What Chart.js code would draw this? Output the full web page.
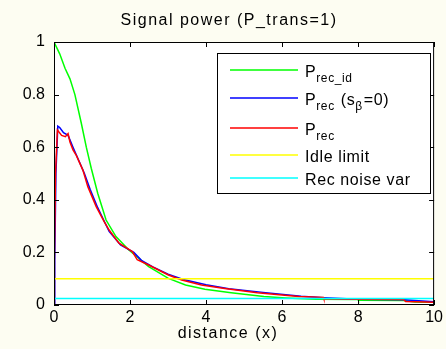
<!DOCTYPE html>
<html>
<head>
<meta charset="utf-8">
<title>Signal power</title>
<script src="https://cdn.jsdelivr.net/npm/chart.js@4.4.1/dist/chart.umd.min.js"></script>
<style>
  html, body { margin: 0; padding: 0; background: #fdfdf2; }
  #wrap { width: 446px; height: 349px; }
</style>
</head>
<body>
<div id="wrap"><canvas id="powerChart" width="446" height="349"></canvas></div>
<script>
// received power vs. distance
const distIdeal = [0, 0.15, 0.29, 0.42, 0.55, 0.72, 0.85, 0.98, 1.15, 1.37, 1.63, 1.97, 2.49, 3.01, 3.46, 3.97, 4.66, 5.52, 6.1, 6.9, 8.0, 8.01, 9.2, 9.5, 10];
const pIdeal = [1, 0.955, 0.9, 0.86, 0.8, 0.69, 0.6, 0.52, 0.425, 0.323, 0.26, 0.209, 0.146, 0.101, 0.076, 0.06, 0.047, 0.032, 0.027, 0.022, 0.021, 0.018, 0.017, 0.011, 0.01];

const distBlue = [0, 0.02, 0.05, 0.1, 0.15, 0.25, 0.37, 0.5, 0.62, 0.8, 0.95, 1.15, 1.35, 1.45, 1.75, 2.1, 2.3, 2.6, 3.0, 3.4, 4.0, 4.6, 5.5, 6.5, 7.1, 8.0, 9.2, 10];
const pBlue = [0, 0.17, 0.5, 0.68, 0.675, 0.655, 0.645, 0.6, 0.56, 0.5, 0.44, 0.37, 0.31, 0.28, 0.228, 0.2, 0.17, 0.145, 0.117, 0.097, 0.077, 0.062, 0.048, 0.033, 0.028, 0.022, 0.02, 0.012];

const distRec = [0, 0.01, 0.04, 0.09, 0.2, 0.3, 0.37, 0.42, 0.5, 0.59, 0.76, 0.89, 1.11, 1.32, 1.45, 1.71, 2.06, 2.19, 2.49, 3.01, 3.36, 3.88, 4.49, 5.35, 6.0, 6.44, 7.09, 7.1, 8.0, 9.2, 9.25, 10];
const pRec = [0, 0.17, 0.5, 0.665, 0.645, 0.64, 0.652, 0.62, 0.59, 0.568, 0.513, 0.45, 0.374, 0.317, 0.285, 0.235, 0.203, 0.172, 0.152, 0.114, 0.095, 0.076, 0.063, 0.047, 0.038, 0.032, 0.029, 0.024, 0.022, 0.021, 0.013, 0.01];

const idleLimit = 0.1;
const recNoiseVar = 0.025;

const xTicks = [0, 2, 4, 6, 8, 10];
const yTicks = [0, 0.2, 0.4, 0.6, 0.8, 1];

// legend entries: pieces of [text, subscript?]
const legendItems = [
  { color: '#00ff00', parts: [['P', false], ['rec_id', true]] },
  { color: '#0000ff', parts: [['P', false], ['rec', true], [' (s', false], ['\u03b2', true], ['=0)', false]] },
  { color: '#ff0000', parts: [['P', false], ['rec', true]] },
  { color: '#ffff00', parts: [['Idle limit', false]] },
  { color: '#00ffff', parts: [['Rec noise var', false]] }
];

const FONT = '"Liberation Sans", Arial, sans-serif';

const toPoints = (xs, ys) => xs.map((x, i) => ({ x: x, y: ys[i] }));

const frame = {
  id: 'frame',
  beforeDraw(chart) {
    const { ctx, chartArea: a } = chart;
    ctx.save();
    ctx.fillStyle = '#fdfdf2';
    ctx.fillRect(0, 0, chart.width, chart.height);
    ctx.fillStyle = '#ffffff';
    ctx.fillRect(a.left, a.top, a.right - a.left, a.bottom - a.top);
    ctx.restore();
  },
  afterDatasetsDraw(chart) {
    const { ctx, chartArea: a, scales } = chart;
    ctx.save();
    ctx.strokeStyle = '#000';
    ctx.lineWidth = 1;
    ctx.strokeRect(a.left + 0.5, a.top + 0.5, a.right - a.left - 1, a.bottom - a.top - 1);
    ctx.beginPath();
    xTicks.forEach(v => {
      const px = Math.round(scales.x.getPixelForValue(v)) + 0.5;
      ctx.moveTo(px, a.bottom); ctx.lineTo(px, a.bottom - 5);
      ctx.moveTo(px, a.top); ctx.lineTo(px, a.top + 5);
    });
    yTicks.forEach(v => {
      const py = Math.round(scales.y.getPixelForValue(v)) + 0.5;
      ctx.moveTo(a.left, py); ctx.lineTo(a.left + 5, py);
      ctx.moveTo(a.right, py); ctx.lineTo(a.right - 5, py);
    });
    ctx.stroke();

    // title and x label
    ctx.fillStyle = '#000';
    ctx.textAlign = 'center';
    ctx.textBaseline = 'middle';
    ctx.font = '16px ' + FONT;
    ctx.letterSpacing = '1.5px';
    ctx.fillText('Signal power (P_trans=1)', 229, 21);
    ctx.fillText('distance (x)', 228, 334);

    // legend box
    ctx.fillStyle = '#fff';
    ctx.fillRect(217, 53, 213, 140);
    ctx.strokeRect(217.5, 53.5, 213, 140);
    ctx.letterSpacing = '0.6px';
    const rows = [70, 98, 128, 155, 178];
    legendItems.forEach((item, i) => {
      const y = rows[i];
      ctx.strokeStyle = item.color;
      ctx.lineWidth = 1.5;
      ctx.beginPath();
      ctx.moveTo(230, y); ctx.lineTo(298, y);
      ctx.stroke();
      let x = 305;
      ctx.textAlign = 'left';
      ctx.textBaseline = 'alphabetic';
      ctx.fillStyle = '#000';
      item.parts.forEach(([txt, sub]) => {
        ctx.font = (sub ? '12px ' : '16px ') + FONT;
        const base = sub ? y + 12 : y + 7;
        ctx.fillText(txt, x, base);
        x += ctx.measureText(txt).width + (sub ? 1 : 0);
      });
    });
    ctx.restore();
  }
};

const line = (label, data, color, order) => ({
  label: label,
  data: data,
  borderColor: color,
  backgroundColor: color,
  borderWidth: 1.5,
  pointRadius: 0,
  tension: 0,
  fill: false,
  order: order
});

new Chart(document.getElementById('powerChart'), {
  type: 'line',
  data: {
    datasets: [
      line('P_rec_id', toPoints(distIdeal, pIdeal), '#00ff00', 4),
      line('P_rec (s_b=0)', toPoints(distBlue, pBlue), '#0000ff', 3),
      line('P_rec', toPoints(distRec, pRec), '#ff0000', 2),
      line('Idle limit', toPoints([0, 10], [idleLimit, idleLimit]), '#ffff00', 1),
      line('Rec noise var', toPoints([0, 10], [recNoiseVar, recNoiseVar]), '#00ffff', 0)
    ]
  },
  options: {
    responsive: false,
    devicePixelRatio: 1,
    animation: false,
    layout: { padding: { top: 42, right: 7, left: 0, bottom: 0 } },
    plugins: { legend: { display: false }, title: { display: false }, tooltip: { enabled: false } },
    scales: {
      x: {
        type: 'linear', min: 0, max: 10,
        grid: { display: false, drawTicks: false },
        border: { display: false },
        afterBuildTicks: s => { s.ticks = xTicks.map(v => ({ value: v })); },
        ticks: { color: '#000', font: { family: FONT, size: 16 }, padding: 3, maxRotation: 0 },
        afterFit: s => { s.height = 44; }
      },
      y: {
        type: 'linear', min: 0, max: 1,
        grid: { display: false, drawTicks: false },
        border: { display: false },
        afterBuildTicks: s => { s.ticks = yTicks.map(v => ({ value: v })); },
        ticks: { color: '#000', font: { family: FONT, size: 16 }, padding: 9, callback: v => String(v) },
        afterFit: s => { s.width = 54; }
      }
    }
  },
  plugins: [frame]
});
</script>
</body>
</html>
